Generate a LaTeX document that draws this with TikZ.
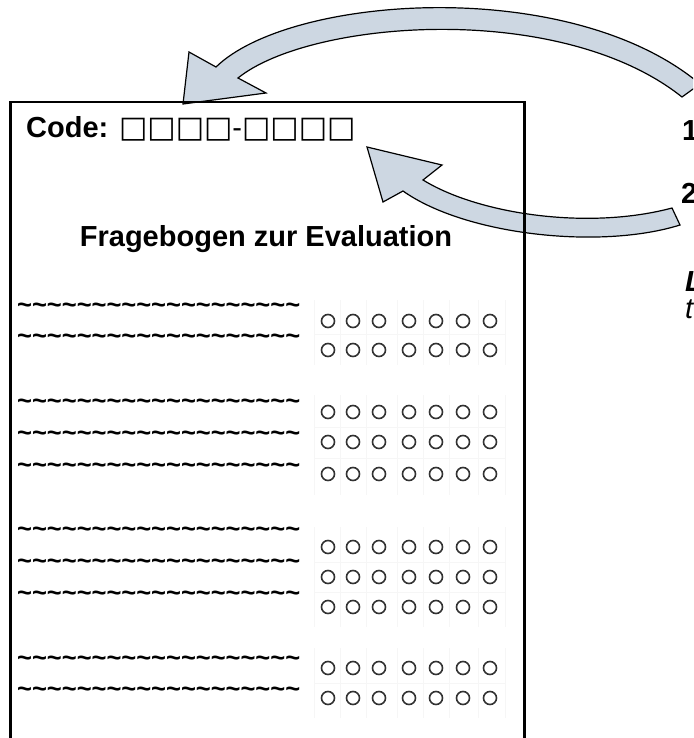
\documentclass[tikz,border=0pt]{standalone}
\usepackage{fontspec}
\setmainfont{Liberation Sans}
\newfontfamily\symfont{DejaVu Sans}
\definecolor{arrowfill}{RGB}{205,215,226}
\definecolor{radio}{RGB}{50,50,50}
\definecolor{cellline}{RGB}{246,246,246}
\tikzset{
  blockarrow/.style={draw=black, line width=1.2pt, fill=arrowfill, line join=miter},
  formbox/.style={draw=black, line width=2.5pt, inner sep=0pt, minimum width=514pt, minimum height=700pt, anchor=north west},
  bigbold/.style={font=\bfseries\fontsize{29}{34}\selectfont, inner sep=0pt},
  tildetext/.style={font=\bfseries\fontsize{25.5}{30}\selectfont, inner sep=0pt, anchor=base west},
  radiobtn/.style={draw=radio, line width=1.6pt},
  cell/.style={draw=cellline, line width=0.6pt},
  sidebold/.style={font=\bfseries\fontsize{29}{34}\selectfont, inner sep=0pt, anchor=base west},
  sideitbold/.style={font=\bfseries\itshape\fontsize{29}{34}\selectfont, inner sep=0pt, anchor=base west},
  sideit/.style={font=\itshape\fontsize{29}{34}\selectfont, inner sep=0pt, anchor=base west}
}
\def\tildeline{\textasciitilde\textasciitilde\textasciitilde\textasciitilde\textasciitilde\textasciitilde\textasciitilde\textasciitilde\textasciitilde\textasciitilde\textasciitilde\textasciitilde\textasciitilde\textasciitilde\textasciitilde\textasciitilde\textasciitilde\textasciitilde\textasciitilde}
\begin{document}
\begin{tikzpicture}[x=1pt,y=-1pt]
\useasboundingbox (0,0) rectangle (693,738);
\clip (0,0) rectangle (693,738);
\fill[white] (0,0) rectangle (693,738);

% faint table cells
\foreach \ya/\yb in {300/365, 395/495, 527/627, 648/718}{
  \foreach \x in {314,340,366,397,423,449,478,505}{
    \draw[cell] (\x,\ya) -- (\x,\yb);
  }
}
\foreach \y in {334, 427, 458, 562, 592, 683}{
  \draw[cell] (314,\y) -- (505,\y);
}

% radio buttons
\foreach \y in {321,350, 412,442,474, 547,577,607, 668,698}{
  \foreach \x in {328,353,379,409,436,463,490}{
    \draw[radiobtn] (\x,\y) circle (6.5);
  }
}

% tilde lines
\foreach \y [count=\i] in {304,335, 400,432,464, 528,560,592, 657,688}{
  \node[tildetext] (t\i) at (17,\y+9) {\tildeline};
}

% arrows
\draw[blockarrow] (216,67) -- (189,52) -- (183,104) -- (266,93) -- (238,78)
  .. controls (310,20) and (560,0) .. (682,97) -- (700,84)
  .. controls (570,-25) and (290,-5) .. (216,67) -- cycle;
\draw[blockarrow] (423,180) -- (442,165) -- (367,147) -- (383,202) -- (403,191)
  .. controls (465,235) and (600,250) .. (680,225) -- (672,208)
  .. controls (590,230) and (480,215) .. (423,180) -- cycle;

% form
\node[formbox] (form) at (9,101) {};
\node[bigbold, anchor=base west] (code) at (26,138) {Code: {\symfont\fontsize{30}{34}\selectfont □□□□}{\mdseries -}{\symfont\fontsize{30}{34}\selectfont □□□□}};
\node[bigbold, anchor=base] (title) at (266,246) {Fragebogen zur Evaluation};

% side texts (cut by the edge, as in the reference)
\node[sidebold] (s1) at (682,141) {1};
\node[sidebold] (s2) at (681,204) {2};
\node[sideitbold] (s3) at (685,291) {L};
\node[sideit] (s4) at (685,318) {t};
\end{tikzpicture}
\end{document}
